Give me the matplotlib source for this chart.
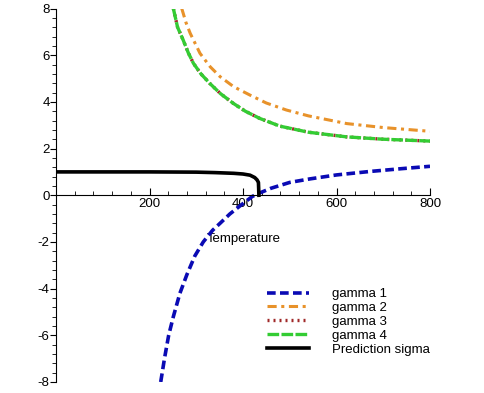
import matplotlib.pyplot as plt
from matplotlib.ticker import MultipleLocator

# values
g1_t = [224, 232, 241, 251, 265, 280, 297, 315, 335, 351, 372, 394, 420, 436, 460, 500, 543, 600, 672, 740, 800]
g1_v = [-8, -7.0, -6.0, -5.2, -4.2, -3.4, -2.6, -2.0, -1.5, -1.2, -0.8, -0.45, -0.05, 0.1, 0.3, 0.55, 0.7, 0.87, 1.02, 1.14, 1.24]

g2_t = [269, 278, 287, 308, 330, 351, 380, 415, 450, 493, 540, 622, 700, 800]
g2_v = [8, 7.4, 6.94, 6.08, 5.5, 5.08, 4.65, 4.29, 3.95, 3.65, 3.4, 3.07, 2.9, 2.74]

g4_t = [251, 260, 272, 283, 294, 310, 329, 352, 379, 405, 436, 479, 540, 622, 700, 800]
g4_v = [8, 7.2, 6.65, 6.1, 5.65, 5.2, 4.79, 4.35, 3.94, 3.6, 3.29, 2.96, 2.7, 2.5, 2.4, 2.32]

sig_t = [0, 100, 200, 300, 340, 380, 400, 415, 425, 430, 433, 433.5, 434]
sig_v = [1.0, 1.0, 1.0, 0.99, 0.97, 0.94, 0.91, 0.86, 0.76, 0.66, 0.55, 0.3, 0.0]

x_ticks = [200, 400, 600, 800]
y_ticks = [-8, -6, -4, -2, 0, 2, 4, 6, 8]


def main():
    plt.rcParams["font.family"] = ["Liberation Sans", "DejaVu Sans"]
    plt.rcParams["axes.unicode_minus"] = False
    fig = plt.figure(figsize=(4.85, 3.93), dpi=100)
    ax = fig.add_axes([56 / 485, 1 - 382 / 393, (430 - 56) / 485, (382 - 8.5) / 393])

    ax.plot(g1_t, g1_v, color="#0a0ab4", lw=2.6, ls=(0, (2.4, 1.2)), label="gamma 1")
    ax.plot(g2_t, g2_v, color="#e8922a", lw=2.2, ls=(0, (3, 1.5, 1, 1.5)), label="gamma 2")
    ax.plot(g4_t, g4_v, color="#a02828", lw=2.4, ls=(0, (0.6, 1.2)), label="gamma 3")
    ax.plot(g4_t, g4_v, color="#33cc33", lw=2.4, ls=(0, (3.5, 0.7)), label="gamma 4")
    ax.plot(sig_t, sig_v, color="black", lw=2.6, label="Prediction sigma")

    ax.set_xlim(0, 800)
    ax.set_ylim(-8, 8)
    ax.spines["top"].set_visible(False)
    ax.spines["right"].set_visible(False)
    ax.spines["bottom"].set_position(("data", 0))
    ax.set_xticks(x_ticks)
    ax.set_yticks(y_ticks)
    ax.xaxis.set_minor_locator(MultipleLocator(40))
    ax.yaxis.set_minor_locator(MultipleLocator(0.4))
    ax.tick_params(axis="x", direction="in", length=5, pad=2, labelsize=9.5)
    ax.tick_params(axis="x", which="minor", direction="in", length=3)
    ax.tick_params(axis="y", direction="out", length=4, pad=0.5, labelsize=9.5)
    ax.tick_params(axis="y", which="minor", direction="out", length=3)

    ax.set_xlabel("Temperature", fontsize=9.5)
    ax.xaxis.set_label_coords((244 - 56) / 374, (382 - 233) / 374)

    fig.legend(loc="upper left", bbox_to_anchor=(267 / 485, 1 - 288 / 393),
               frameon=False, fontsize=9.5, handlelength=3.2, handletextpad=1.7,
               labelspacing=0.12, borderpad=0, borderaxespad=0)

    fig.savefig("out.png", dpi=100)


if __name__ == "__main__":
    main()
